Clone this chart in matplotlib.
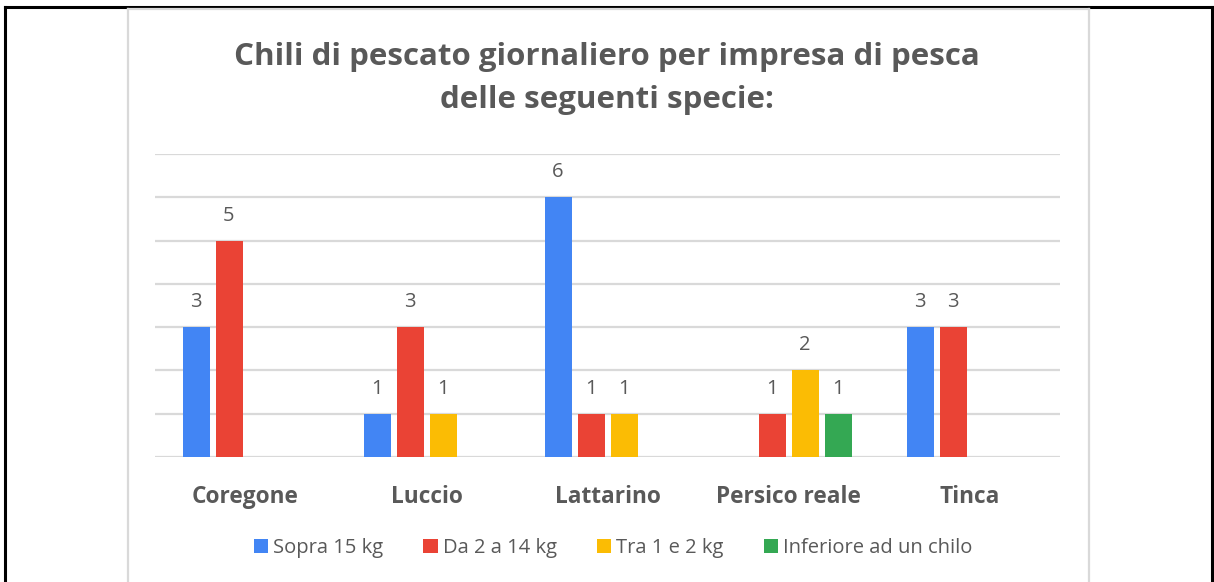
import matplotlib
matplotlib.use("Agg")
import matplotlib.pyplot as plt
import numpy as np
from matplotlib.lines import Line2D
from matplotlib.patches import Patch

plt.rcParams['font.family'] = ['Open Sans', 'DejaVu Sans']

categories = ["Coregone", "Luccio", "Lattarino", "Persico reale", "Tinca"]
series_names = ["Sopra 15 kg", "Da 2 a 14 kg", "Tra 1 e 2 kg", "Inferiore ad un chilo"]
sopra_15 = [3, 1, 6, 0, 3]
da_2_a_14 = [5, 3, 1, 1, 3]
tra_1_e_2 = [0, 1, 1, 2, 0]
inferiore_1 = [0, 0, 0, 1, 0]
colors = ["#4285F4", "#EA4335", "#FBBC04", "#34A853"]
title = "Chili di pescato giornaliero per impresa di pesca\ndelle seguenti specie:"

W, H = 1214, 582
fig = plt.figure(figsize=(W / 100, H / 100), dpi=100)
fig.patch.set_facecolor("white")

def fx(px):
    return px / W

def fy(py):
    return 1 - py / H

# outer black frame (top, left, right)
fig.add_artist(Line2D([fx(4.5), fx(1211.5)], [fy(6.5), fy(6.5)], color="black", lw=2.2, transform=fig.transFigure))
fig.add_artist(Line2D([fx(4.5), fx(4.5)], [fy(6.5), fy(582)], color="black", lw=2.2, transform=fig.transFigure))
fig.add_artist(Line2D([fx(1211.5), fx(1211.5)], [fy(6.5), fy(582)], color="black", lw=2.2, transform=fig.transFigure))
# chart area grey frame
fig.add_artist(Line2D([fx(127.5), fx(1088.5)], [fy(8.5), fy(8.5)], color="#D9D9D9", lw=1.6, transform=fig.transFigure))
fig.add_artist(Line2D([fx(127.5), fx(127.5)], [fy(8.5), fy(582)], color="#D9D9D9", lw=1.6, transform=fig.transFigure))
fig.add_artist(Line2D([fx(1088.5), fx(1088.5)], [fy(8.5), fy(582)], color="#D9D9D9", lw=1.6, transform=fig.transFigure))

ax = fig.add_axes([fx(155), fy(457), fx(1060) - fx(155), fy(154) - fy(457)])
ax.set_xlim(-0.5, len(categories) - 0.5)
ax.set_ylim(0, 7)

series = [sopra_15, da_2_a_14, tra_1_e_2, inferiore_1]
x = np.arange(len(categories))
step = 33 / 181
width = 27 / 181
for i, (vals, col) in enumerate(zip(series, colors)):
    off = (i - 1.5) * step
    v = np.array(vals, dtype=float)
    mask = v > 0
    ax.bar(x[mask] + off, v[mask], width=width, color=col, zorder=3)
    for xi, vi in zip(x[mask] + off, v[mask]):
        ax.annotate(f"{int(vi)}", (xi, vi), xytext=(0, 18), textcoords="offset points",
                    ha="center", va="center", fontsize=14.5, color="#595959")

ax.set_yticks(range(0, 8))
ax.yaxis.grid(True, color="#D9D9D9", lw=1.6, zorder=0)
ax.tick_params(axis="y", left=False, labelleft=False)
ax.tick_params(axis="x", bottom=False, length=0, pad=20)
ax.set_xticks(x)
ax.set_xticklabels(categories, fontsize=16.3, fontweight="bold", color="#595959")
for s in ["top", "right", "left", "bottom"]:
    ax.spines[s].set_visible(False)
ax.set_facecolor("none")

fig.text(0.5, fy(78.5), title, ha="center", va="center", fontsize=22.5, fontweight="bold",
         color="#595959", linespacing=1.56)

handles = [Patch(facecolor=c, edgecolor="none") for c in colors]
fig.legend(handles, series_names, loc="center", bbox_to_anchor=(fx(613), fy(548)), ncol=4,
           frameon=False, fontsize=14.5, labelcolor="#595959", handlelength=0.7, handleheight=0.7,
           handletextpad=0.25, columnspacing=2.0)

fig.savefig("out.png", dpi=100, facecolor="white")
